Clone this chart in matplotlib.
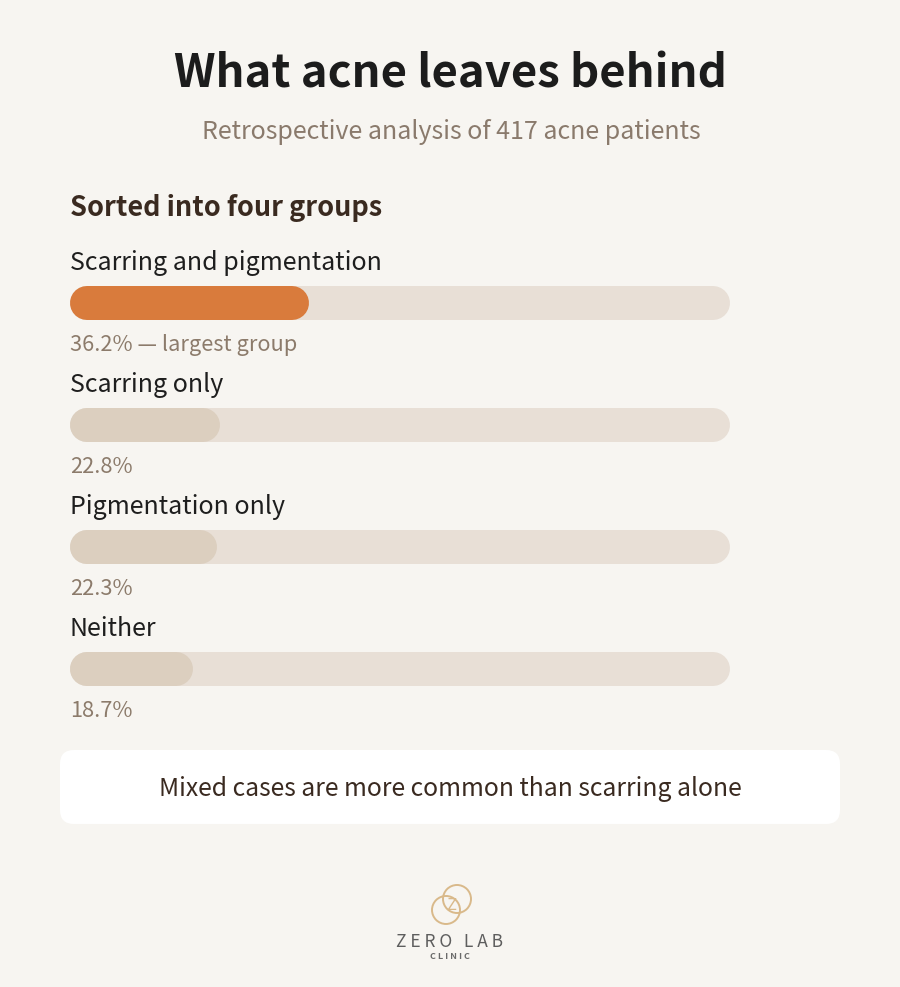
import matplotlib
matplotlib.use('Agg')
import matplotlib.pyplot as plt
from matplotlib.patches import FancyBboxPatch, Circle

plt.rcParams['font.family'] = ['Noto Sans CJK KR', 'DejaVu Sans']

# data
groups = ['Scarring and pigmentation', 'Scarring only', 'Pigmentation only', 'Neither']
shares = [36.2, 22.8, 22.3, 18.7]
notes = ['36.2% — largest group', '22.8%', '22.3%', '18.7%']
highlight = [True, False, False, False]

BG = '#F7F5F1'
TRACK = '#E8DFD6'
FILL = '#DCCFBF'
ORANGE = '#D97B3C'

fig = plt.figure(figsize=(9, 9.871), dpi=100)
fig.patch.set_facecolor(BG)
ax = fig.add_axes([0, 0, 1, 1])
ax.set_xlim(0, 900)
ax.set_ylim(987, 0)
ax.axis('off')
ax.set_facecolor(BG)

ax.text(450, 74, 'What acne leaves behind', ha='center', va='center',
        fontsize=32.7, fontweight='bold', color='#1c1c1c')
ax.text(451, 132, 'Retrospective analysis of 417 acne patients', ha='center', va='center',
        fontsize=18, color='#8a7a6c')
ax.text(70, 208, 'Sorted into four groups', ha='left', va='center',
        fontsize=19.5, fontweight='semibold', color='#3a2a20')

x0 = 70
track_w = 660
bar_h = 34
lw = bar_h * 72 / 100
r = bar_h / 2
for i, (g, s, n, hl) in enumerate(zip(groups, shares, notes, highlight)):
    y = 261 + i * 122
    ax.text(x0, y + 2, g, ha='left', va='center', fontsize=18, fontweight='medium',
            color='#1e1e1e')
    by = y + 42
    ax.plot([x0 + r, x0 + track_w - r], [by, by], color=TRACK, lw=lw,
            solid_capstyle='round')
    w = s / 100 * track_w
    ax.plot([x0 + r, x0 + w - r], [by, by], color=ORANGE if hl else FILL, lw=lw,
            solid_capstyle='round')
    ax.text(x0, y + 84, n, ha='left', va='center', fontsize=15.7, color='#8c7b6b')

box = FancyBboxPatch((60, 750), 780, 74, boxstyle='round,pad=0,rounding_size=14',
                     facecolor='white', edgecolor='none')
ax.add_patch(box)
ax.text(450, 789, 'Mixed cases are more common than scarring alone', ha='center',
        va='center', fontsize=17.8, color='#3a2a20')

# logo
gold = '#D9B98A'
ax.add_patch(Circle((446, 910), 14, fill=False, edgecolor=gold, lw=1.4))
ax.add_patch(Circle((457, 899), 14, fill=False, edgecolor=gold, lw=1.4))
ax.text(451, 905, 'Z', ha='center', va='center', fontsize=12, color=gold)
ax.text(450, 942, 'Z E R O   L A B', ha='center', va='center', fontsize=12.5,
        color='#5e5e5e')
ax.text(450, 956, 'C L I N I C', ha='center', va='center', fontsize=6.5,
        fontweight='bold', color='#6a6a6a')

fig.savefig('out.png', dpi=100, facecolor=BG)
